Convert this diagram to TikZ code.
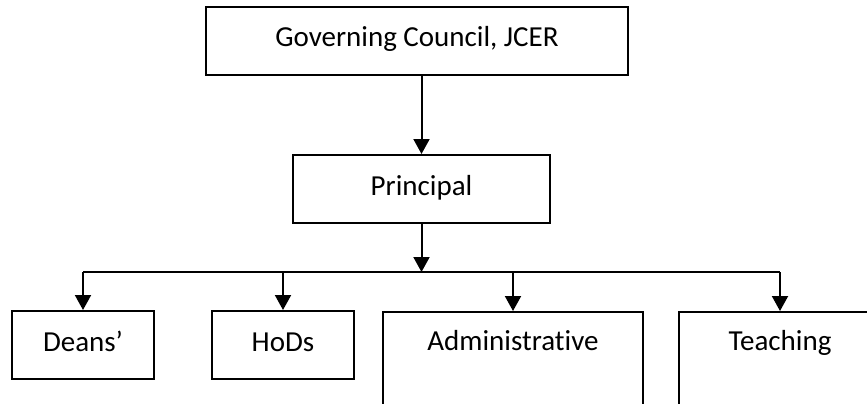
\documentclass[tikz,border=0pt]{standalone}
\usepackage{fontspec}
\setmainfont{Carlito}[Ligatures=CommonOff]
\usetikzlibrary{arrows.meta}
\begin{document}
\begin{tikzpicture}[x=1pt,y=-1pt,
  box/.style={draw=black, line width=2pt, rectangle, inner sep=0pt, minimum height=68pt,
    text height=19pt, text depth=7pt, font=\fontsize{29}{34}\selectfont},
  tallbox/.style={draw=black, line width=2pt, rectangle, inner sep=0pt, anchor=north, minimum height=140pt},
  lbl/.style={inner sep=0pt, anchor=base, font=\fontsize{29}{34}\selectfont},
  conn/.style={line width=2pt, -{Triangle[width=16pt,length=15pt]}},
  busline/.style={line width=2pt}]
\useasboundingbox (0,0) rectangle (867,404);
\clip (0,0) rectangle (867,404);
\node[box, minimum width=422pt] (gc) at (417,41) {Governing Council, JCER};
\node[box, minimum width=257pt] (prin) at (421.5,189) {Principal};
\node[box, minimum width=142pt] (deans) at (83,345) {Deans’};
\node[box, minimum width=142pt] (hods) at (283,345) {HoDs};
\node[tallbox, minimum width=260pt] (adm) at (513,311) {};
\node[tallbox, minimum width=202pt] (teach) at (780,311) {};
\node[lbl] (admt) at (513,350) {Administrative};
\node[lbl] (teacht) at (780,350) {Teaching};
\coordinate (bus) at (421.5,272);
\coordinate (busl) at (83,272);
\coordinate (busr) at (780,272);
\draw[conn] (prin.north |- gc.south) -- (prin.north);
\draw[conn] (prin.south) -- (bus);
\draw[busline] (busl) -- (busr);
\draw[conn] (busl) -- (deans.north);
\draw[conn] (hods.north |- bus) -- (hods.north);
\draw[conn] (adm.north |- bus) -- (adm.north);
\draw[conn] (busr) -- (teach.north);
\end{tikzpicture}
\end{document}
